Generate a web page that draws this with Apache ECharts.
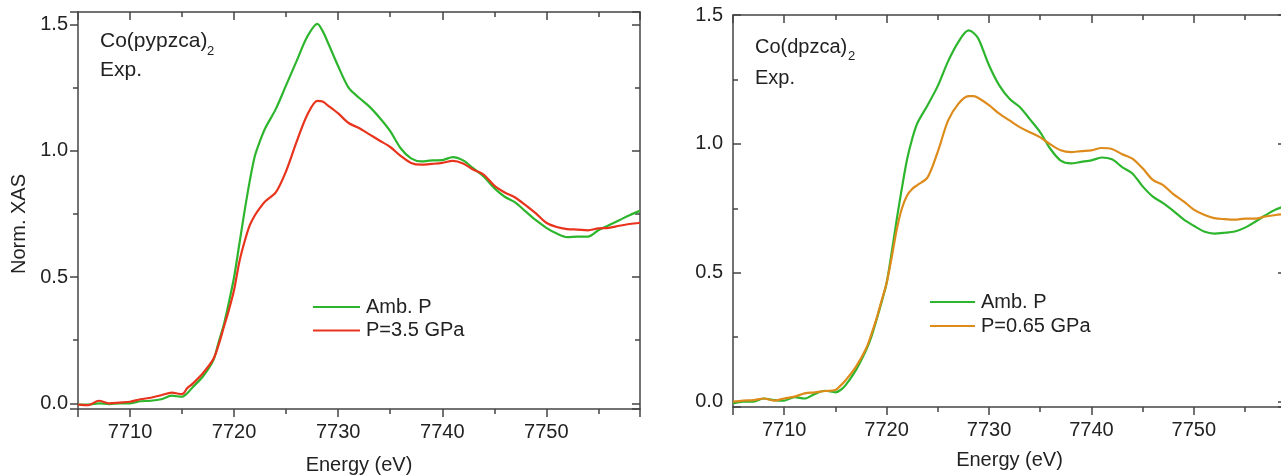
<!DOCTYPE html>
<html>
<head>
<meta charset="utf-8">
<script src="https://cdn.jsdelivr.net/npm/echarts@6/dist/echarts.min.js"></script>
<style>
  html, body { margin: 0; padding: 0; background: #fff; }
  #chart { width: 1281px; height: 475px; }
</style>
</head>
<body>
<div id="chart"></div>
<script>
// energy grid shared by both panels (eV)
const energy = [7705, 7706, 7707, 7708, 7709, 7710, 7711, 7712, 7713, 7714, 7715,
    7715.5, 7716, 7717, 7718, 7718.5, 7719, 7719.5, 7720, 7720.5, 7721, 7721.5, 7722, 7722.5, 7723,
    7724, 7725, 7726, 7727, 7728, 7728.5,
    7729, 7730, 7731, 7732, 7733, 7734, 7735, 7736, 7737, 7738, 7739, 7740, 7741, 7742, 7743,
    7744, 7745, 7746, 7747, 7748, 7749, 7750, 7751, 7752, 7753, 7754, 7755, 7756, 7757, 7758, 7759];

// Co(pypzca)2
const ambLeft = [-0.005, -0.005, 0.0, -0.003, 0.0, 0.0, 0.008, 0.01, 0.016, 0.03, 0.026,
    0.04, 0.063, 0.106, 0.17, 0.24, 0.31, 0.40, 0.50, 0.63, 0.76, 0.88, 0.98, 1.04, 1.09,
    1.165, 1.26, 1.355, 1.45, 1.503, 1.475,
    1.43, 1.335, 1.25, 1.21, 1.175, 1.13, 1.078, 1.01, 0.97, 0.958, 0.962, 0.963, 0.975, 0.962, 0.93,
    0.897, 0.852, 0.818, 0.796, 0.76, 0.725, 0.695, 0.672, 0.658, 0.66, 0.66, 0.685, 0.705, 0.725, 0.745, 0.762];
const presLeft = [-0.005, -0.007, 0.01, 0.0, 0.003, 0.006, 0.016, 0.022, 0.032, 0.042, 0.036,
    0.06, 0.077, 0.119, 0.175, 0.23, 0.30, 0.37, 0.45, 0.56, 0.64, 0.705, 0.745, 0.775, 0.80,
    0.835, 0.92, 1.035, 1.14, 1.198, 1.195,
    1.18, 1.148, 1.11, 1.09, 1.065, 1.04, 1.015, 0.98, 0.952, 0.945, 0.948, 0.952, 0.96, 0.95, 0.925,
    0.905, 0.862, 0.835, 0.815, 0.785, 0.752, 0.715, 0.698, 0.69, 0.688, 0.685, 0.693, 0.695, 0.703, 0.71, 0.715];

// Co(dpzca)2
const ambRight = [-0.007, 0.0, 0.0, 0.012, 0.006, 0.004, 0.017, 0.012, 0.03, 0.042, 0.036,
    0.045, 0.064, 0.122, 0.20, 0.25, 0.316, 0.385, 0.46, 0.58, 0.71, 0.83, 0.94, 1.02, 1.08,
    1.15, 1.225, 1.32, 1.395, 1.44, 1.43,
    1.405, 1.305, 1.227, 1.175, 1.143, 1.095, 1.045, 0.98, 0.935, 0.924, 0.93, 0.936, 0.947, 0.94, 0.91,
    0.885, 0.835, 0.795, 0.77, 0.74, 0.707, 0.682, 0.66, 0.652, 0.655, 0.66, 0.675, 0.698, 0.723, 0.745, 0.76];
const presRight = [0.0, 0.004, 0.006, 0.012, 0.004, 0.012, 0.019, 0.032, 0.036, 0.041, 0.045,
    0.062, 0.083, 0.135, 0.206, 0.26, 0.32, 0.39, 0.46, 0.56, 0.67, 0.75, 0.80, 0.825, 0.84,
    0.87, 0.97, 1.09, 1.155, 1.185, 1.185,
    1.177, 1.15, 1.117, 1.091, 1.065, 1.045, 1.025, 0.998, 0.975, 0.968, 0.972, 0.975, 0.984, 0.98, 0.96,
    0.943, 0.905, 0.86, 0.84, 0.805, 0.777, 0.745, 0.725, 0.712, 0.708, 0.706, 0.71, 0.71, 0.718, 0.724, 0.728];

const legendLeft = ['Amb. P', 'P=3.5 GPa'];
const legendRight = ['Amb. P', 'P=0.65 GPa'];

const FONT = 'Liberation Sans, Arial, sans-serif';
const AXIS_COLOR = '#444';
const TEXT_COLOR = '#222';
const GREEN = '#2db52d';
const RED = '#e8341c';
const ORANGE = '#dd8b1a';

function pairs(ys) {
    return energy.map((e, i) => [e, ys[i]]);
}

function xAx(grid, pos, inside, labels, nameGap) {
    return {
        type: 'value', gridIndex: grid, position: pos,
        min: 7705, max: 7759, splitNumber: 5,
        name: labels ? 'Energy (eV)' : '',
        nameLocation: 'middle', nameGap: nameGap,
        nameTextStyle: { fontSize: 20, color: TEXT_COLOR, fontFamily: FONT },
        axisLine: { show: true, onZero: false, lineStyle: { color: AXIS_COLOR, width: 1.5 } },
        axisTick: { show: true, inside: inside, length: 8, lineStyle: { color: AXIS_COLOR, width: 1.5 } },
        minorTick: { show: true, splitNumber: 2, length: 5, lineStyle: { color: AXIS_COLOR, width: 1.5 } },
        splitLine: { show: false },
        axisLabel: {
            show: labels, margin: 13, fontSize: 20, color: TEXT_COLOR, fontFamily: FONT,
            formatter: v => (v % 10 === 0 ? String(v) : '')
        }
    };
}

function yAx(grid, pos, inside, labels, min, max) {
    return {
        type: 'value', gridIndex: grid, position: pos,
        min: min, max: max, splitNumber: 3,
        axisLine: { show: true, onZero: false, lineStyle: { color: AXIS_COLOR, width: 1.5 } },
        axisTick: { show: true, inside: inside, length: 8, lineStyle: { color: AXIS_COLOR, width: 1.5 } },
        minorTick: { show: true, splitNumber: 2, length: 5, lineStyle: { color: AXIS_COLOR, width: 1.5 } },
        splitLine: { show: false },
        axisLabel: {
            show: labels, margin: 10, fontSize: 20, color: TEXT_COLOR, fontFamily: FONT,
            formatter: v => (Math.abs(v * 2 - Math.round(v * 2)) < 1e-6 ? v.toFixed(1) : '')
        }
    };
}

function lineSeries(name, ys, color, xi, yi) {
    return {
        name: name, type: 'line', data: pairs(ys),
        xAxisIndex: xi, yAxisIndex: yi,
        showSymbol: false, symbol: 'none', smooth: 0.3,
        lineStyle: { color: color, width: 2.2 }, itemStyle: { color: color },
        z: 3
    };
}

function legendBox(names, left, top, width, gap) {
    return {
        data: names, orient: 'vertical', left: left, top: top, padding: 0,
        icon: 'rect', itemWidth: width, itemHeight: 2, itemGap: gap,
        textStyle: { fontSize: 20, color: TEXT_COLOR, fontFamily: FONT, padding: [0, 0, 0, 1] },
        selectedMode: false
    };
}

function label(text, x, y, size) {
    return {
        type: 'text', x: x, y: y,
        style: { text: text, fontSize: size, fontFamily: FONT, fill: TEXT_COLOR, verticalAlign: 'middle' }
    };
}

let chart = echarts.init(document.getElementById('chart'));
let option = {
    animation: false,
    backgroundColor: '#fff',
    grid: [
        { left: 78, top: 12, width: 562, height: 397, outerBoundsMode: 'none' },
        { left: 733, top: 15, width: 553, height: 392, outerBoundsMode: 'none' }
    ],
    xAxis: [
        xAx(0, 'bottom', false, true, 46),
        xAx(0, 'top', true, false, 0),
        xAx(1, 'bottom', false, true, 43),
        xAx(1, 'top', true, false, 0)
    ],
    yAxis: [
        yAx(0, 'left', false, true, -0.0226, 1.5497),
        yAx(0, 'right', true, false, -0.0226, 1.5497),
        yAx(1, 'left', true, true, -0.021, 1.5),
        yAx(1, 'right', true, false, -0.021, 1.5)
    ],
    legend: [
        legendBox(legendLeft, 313, 297, 47, 3.4),
        legendBox(legendRight, 930, 292, 45, 4)
    ],
    series: [
        lineSeries('Amb. P', ambLeft, GREEN, 0, 0),
        lineSeries('P=3.5 GPa', presLeft, RED, 0, 0),
        lineSeries('Amb. P', ambRight, GREEN, 2, 2),
        lineSeries('P=0.65 GPa', presRight, ORANGE, 2, 2)
    ],
    graphic: [
        label('Co(pypzca)', 100, 41.7, 21),
        label('2', 207, 51.5, 13),
        label('Exp.', 100, 70.5, 21),
        label('Co(dpzca)', 755, 47.2, 20),
        label('2', 848, 56.5, 13),
        label('Exp.', 755, 78.3, 20),
        {
            type: 'text', x: 19, y: 224, rotation: Math.PI / 2,
            style: { text: 'Norm. XAS', fontSize: 20, fontFamily: FONT, fill: TEXT_COLOR, align: 'center', verticalAlign: 'middle' }
        }
    ]
};
chart.setOption(option);
</script>
</body>
</html>
